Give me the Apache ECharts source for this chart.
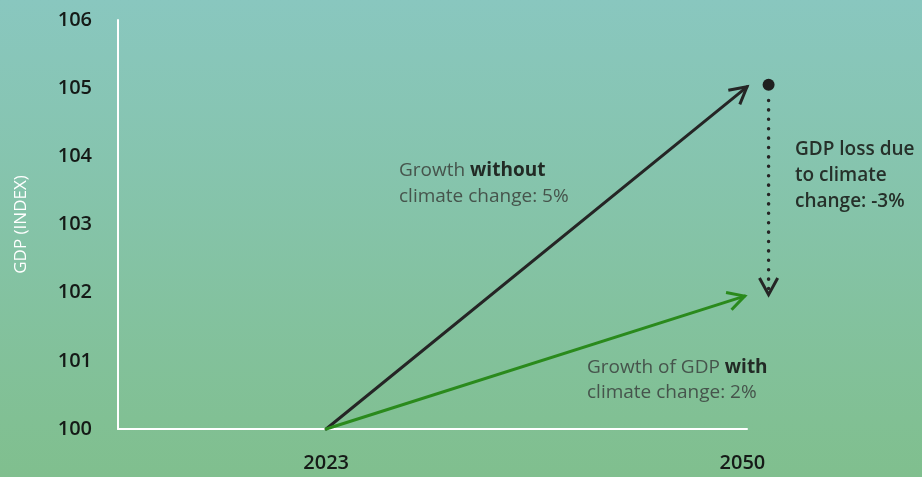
<!DOCTYPE html>
<html>
<head>
	<meta charset="utf-8">
	<title>GDP index</title>
	<style>
		html, body { margin: 0; padding: 0; }
		#chart { width: 922px; height: 477px; }
	</style>
</head>
<body>
	<div id="chart"></div>
	<script src="https://cdn.jsdelivr.net/npm/echarts@6/dist/echarts.min.js"></script>
	<script type="text/javascript">
	// data
	var years = [2023, 2050];
	var arrowEnds = [2050.3, 2050.15];
	var gdpWithoutClimate = [100, 105.02];
	var gdpWithClimate = [100, 101.95];
	var lossDot = [2051.7, 105.05];
	var lossArrow = [104.82, 101.97];
	var yTicks = [100, 101, 102, 103, 104, 105, 106];

	var myChart = echarts.init(document.getElementById('chart'));

	// draws a line from (v0,v1) to (v2,v3) with an open arrow head
	function arrowItem(color, dash) {
		return function (params, api) {
			var a = api.coord([api.value(0), api.value(1)]);
			var b = api.coord([api.value(2), api.value(3)]);
			var ang = Math.atan2(b[1] - a[1], b[0] - a[0]);
			var len = 19, half = 0.5;
			var p1 = [b[0] - len * Math.cos(ang - half), b[1] - len * Math.sin(ang - half)];
			var p2 = [b[0] - len * Math.cos(ang + half), b[1] - len * Math.sin(ang + half)];
			var lineStyle = { stroke: color, lineWidth: dash ? 3.5 : 3, lineCap: 'round' };
			if (dash) lineStyle.lineDash = dash;
			return {
				type: 'group',
				children: [
					{ type: 'line', shape: { x1: a[0], y1: a[1], x2: b[0], y2: dash ? b[1] - 6 : b[1] }, style: lineStyle },
					{ type: 'polyline', shape: { points: [p1, b, p2] }, style: { stroke: color, lineWidth: 3, fill: null, lineJoin: 'miter' } }
				]
			};
		};
	}

	var font = '"Open Sans", "Noto Sans", sans-serif';

	var option = {
		backgroundColor: {
			type: 'linear', x: 0, y: 0, x2: 0, y2: 1,
			colorStops: [
				{ offset: 0, color: '#89c7bf' },
				{ offset: 1, color: '#80bf8e' }
			]
		},
		animation: false,
		grid: { left: 118, right: 175, top: 20, bottom: 48 },
		xAxis: {
			type: 'value',
			min: 2009.5,
			max: 2050.3,
			axisLine: { show: true, lineStyle: { color: '#ffffff', width: 2 } },
			axisTick: { show: false },
			splitLine: { show: false },
			axisLabel: {
				customValues: years,
				formatter: function (v) { return String(v); },
				margin: 24,
				color: '#151a17',
				fontSize: 20,
				fontWeight: 600,
				fontFamily: font
			}
		},
		yAxis: {
			type: 'value',
			min: yTicks[0],
			max: yTicks[yTicks.length - 1],
			interval: 1,
			name: 'GDP (INDEX)',
			nameLocation: 'middle',
			nameRotate: 90,
			nameGap: 88,
			nameTextStyle: { color: '#ffffff', fontSize: 17, fontFamily: font },
			axisLine: { show: true, lineStyle: { color: '#ffffff', width: 2 } },
			axisTick: { show: false },
			splitLine: { show: false },
			axisLabel: {
				margin: 26,
				color: '#151a17',
				fontSize: 20,
				fontWeight: 600,
				fontFamily: font
			}
		},
		series: [
			{
				type: 'custom',
				coordinateSystem: 'cartesian2d',
				encode: { x: [0, 2], y: [1, 3] },
				renderItem: arrowItem('#252525'),
				data: [[years[0], gdpWithoutClimate[0], arrowEnds[0], gdpWithoutClimate[1]]],
				clip: false,
				z: 3
			},
			{
				type: 'custom',
				coordinateSystem: 'cartesian2d',
				encode: { x: [0, 2], y: [1, 3] },
				renderItem: arrowItem('#2a8a1c'),
				data: [[years[0], gdpWithClimate[0], arrowEnds[1], gdpWithClimate[1]]],
				clip: false,
				z: 3
			},
			{
				type: 'custom',
				coordinateSystem: 'cartesian2d',
				encode: { x: [0, 2], y: [1, 3] },
				renderItem: arrowItem('#252525', [0.1, 9.3]),
				data: [[lossDot[0], lossArrow[0], lossDot[0], lossArrow[1]]],
				clip: false,
				z: 3
			},
			{
				type: 'scatter',
				symbolSize: 12,
				itemStyle: { color: '#1f1f1f', opacity: 1 },
				data: [lossDot],
				clip: false,
				z: 4
			}
		],
		graphic: [
			{
				type: 'text', left: 399, top: 158,
				style: {
					text: 'Growth {b|without}\nclimate change: 5%',
					fill: '#46544c', fontSize: 19, fontFamily: font, lineHeight: 26,
					rich: { b: { fontWeight: 'bold', fill: '#222a25', fontSize: 19, fontFamily: font, lineHeight: 26 } }
				}
			},
			{
				type: 'text', left: 587, top: 355,
				style: {
					text: 'Growth of GDP {b|with}\nclimate change: 2%',
					fill: '#46544c', fontSize: 19, fontFamily: font, lineHeight: 25,
					rich: { b: { fontWeight: 'bold', fill: '#222a25', fontSize: 19, fontFamily: font, lineHeight: 25 } }
				}
			},
			{
				type: 'text', left: 795, top: 137,
				style: {
					text: 'GDP loss due\nto climate\nchange: -3%',
					fill: '#26302a', fontSize: 19, fontWeight: 600, fontFamily: font, lineHeight: 26
				}
			}
		]
	};

	myChart.setOption(option);
	</script>
</body>
</html>
